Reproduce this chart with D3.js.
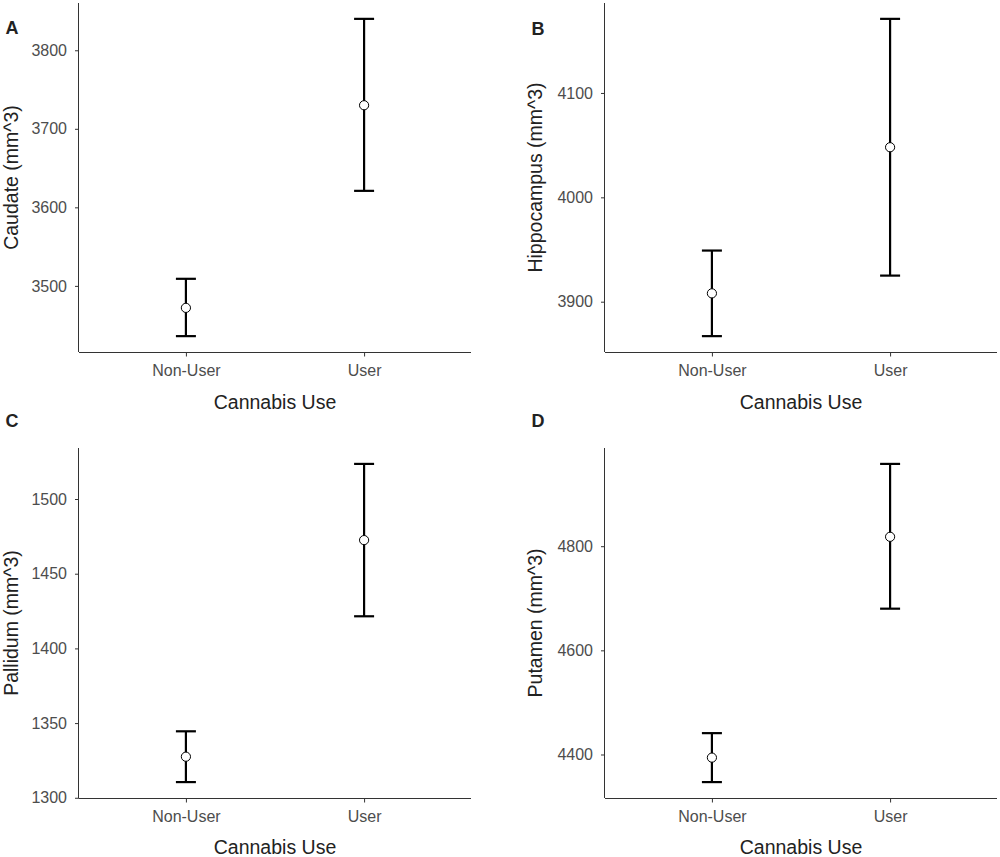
<!DOCTYPE html>
<html>
<head>
<meta charset="utf-8">
<script src="https://cdn.jsdelivr.net/npm/d3@7"></script>
<style>
  body { margin: 0; background: #fff; }
  svg { display: block; font-family: "Liberation Sans", Arial, sans-serif; }
  .tick text { fill: #4d4d4d; font-size: 16px; }
  .tick line, .domain { stroke: #333; }
</style>
</head>
<body>
<div id="chart"></div>
<script>
// groups on the x axis
var groups = ['Non-User', 'User'];

// panel letters and y axis titles
var letters = ['A', 'B', 'C', 'D'];
var yTitles = ['Caudate (mm^3)', 'Hippocampus (mm^3)', 'Pallidum (mm^3)', 'Putamen (mm^3)'];

// means and confidence limits (Non-User, User)
var caudateMean = [3472, 3730];
var caudateLow = [3436, 3621];
var caudateHigh = [3509, 3840];

var hippoMean = [3908, 4048];
var hippoLow = [3867, 3925];
var hippoHigh = [3949, 4171];

var pallidumMean = [1327.5, 1472.5];
var pallidumLow = [1310.5, 1421.5];
var pallidumHigh = [1344.5, 1523.5];

var putamenMean = [4394, 4818];
var putamenLow = [4347, 4680];
var putamenHigh = [4441, 4958];

// y tick labels per panel
var caudateTicks = [3500, 3600, 3700, 3800];
var hippoTicks = [3900, 4000, 4100];
var pallidumTicks = [1300, 1350, 1400, 1450, 1500];
var putamenTicks = [4400, 4600, 4800];

var W = 1000, H = 857;

var svg = d3.select("#chart")
    .append("svg")
    .attr("width", W)
    .attr("height", H);

// plot areas: left/right edge and top/bottom edge of each panel
var boxes = [
    {l: 79, r: 471, t: 3, b: 352, lx: 12, ly: 34, ty: 409, yx: 18},
    {l: 605, r: 997, t: 3, b: 352, lx: 538, ly: 35, ty: 409, yx: 542},
    {l: 79, r: 471, t: 448, b: 798, lx: 12, ly: 427, ty: 854, yx: 18},
    {l: 605, r: 997, t: 448, b: 798, lx: 538, ly: 427, ty: 854, yx: 542}
];

var panels = [
    {mean: caudateMean, lo: caudateLow, hi: caudateHigh, ticks: caudateTicks},
    {mean: hippoMean, lo: hippoLow, hi: hippoHigh, ticks: hippoTicks},
    {mean: pallidumMean, lo: pallidumLow, hi: pallidumHigh, ticks: pallidumTicks},
    {mean: putamenMean, lo: putamenLow, hi: putamenHigh, ticks: putamenTicks}
];

panels.forEach(function(p, i) {
    var bx = boxes[i];
    var rows = groups.map(function(g, j) {
        return {group: g, mean: p.mean[j], lo: p.lo[j], hi: p.hi[j]};
    });

    // ggplot-style 5% expansion around the data
    var mn = d3.min(p.lo), mx = d3.max(p.hi);
    var pad = (mx - mn) * 0.05;

    var x = d3.scalePoint()
        .domain(groups)
        .range([bx.l, bx.r])
        .padding(0.6);

    var y = d3.scaleLinear()
        .domain([mn - pad, mx + pad])
        .range([bx.b, bx.t]);

    var g = svg.append("g");

    g.append("g")
        .attr("transform", "translate(0," + bx.b + ")")
        .call(d3.axisBottom(x).tickSizeInner(4.5).tickSizeOuter(0).tickPadding(8))
        .call(s => s.select(".domain").attr("d", "M" + bx.l + ",0.5H" + bx.r));

    g.append("g")
        .attr("transform", "translate(" + bx.l + ",0)")
        .call(d3.axisLeft(y).tickValues(p.ticks).tickFormat(d3.format("d")).tickSizeInner(4).tickSizeOuter(0).tickPadding(8))
        .call(s => s.select(".domain").attr("d", "M-0.5," + bx.t + "V" + bx.b));

    g.selectAll(".tick text").attr("font-family", null).attr("font-size", null);

    // error bars
    var bars = g.selectAll(".bar")
        .data(rows)
        .enter()
        .append("g")
        .attr("stroke", "#000")
        .attr("stroke-width", 2.2);

    bars.append("line")
        .attr("x1", d => x(d.group))
        .attr("x2", d => x(d.group))
        .attr("y1", d => y(d.lo))
        .attr("y2", d => y(d.hi));

    bars.append("line")
        .attr("x1", d => x(d.group) - 10)
        .attr("x2", d => x(d.group) + 10)
        .attr("y1", d => y(d.hi))
        .attr("y2", d => y(d.hi));

    bars.append("line")
        .attr("x1", d => x(d.group) - 10)
        .attr("x2", d => x(d.group) + 10)
        .attr("y1", d => y(d.lo))
        .attr("y2", d => y(d.lo));

    g.selectAll(".pt")
        .data(rows)
        .enter()
        .append("circle")
        .attr("cx", d => x(d.group))
        .attr("cy", d => y(d.mean))
        .attr("r", 4.6)
        .attr("fill", "#fff")
        .attr("stroke", "#000")
        .attr("stroke-width", 1);

    // titles
    g.append("text")
        .attr("x", (bx.l + bx.r) / 2)
        .attr("y", bx.ty)
        .attr("text-anchor", "middle")
        .attr("font-size", "19.5px")
        .attr("fill", "#222")
        .text("Cannabis Use");

    g.append("text")
        .attr("transform", "translate(" + bx.yx + "," + (bx.t + bx.b) / 2 + ") rotate(-90)")
        .attr("text-anchor", "middle")
        .attr("font-size", "19.5px")
        .attr("fill", "#222")
        .text(yTitles[i]);

    g.append("text")
        .attr("x", bx.lx)
        .attr("y", bx.ly)
        .attr("text-anchor", "middle")
        .attr("font-size", "18px")
        .attr("font-weight", "bold")
        .attr("fill", "#222")
        .text(letters[i]);
});
</script>
</body>
</html>
